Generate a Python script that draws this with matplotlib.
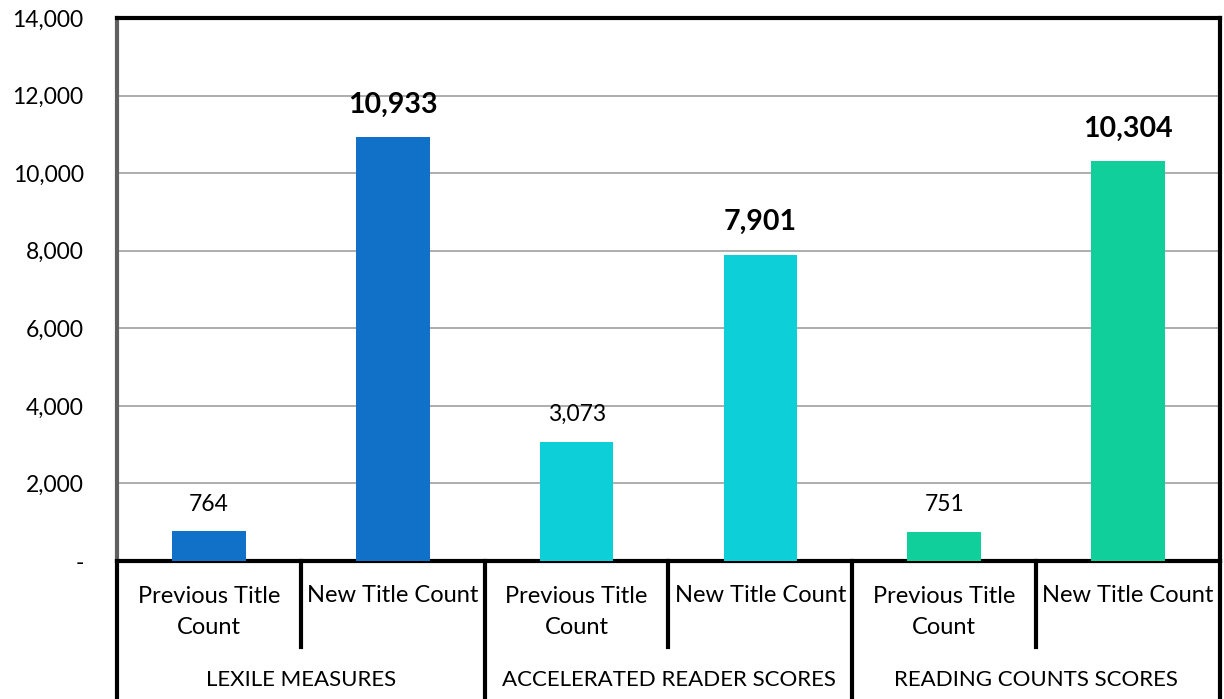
import matplotlib.pyplot as plt
from matplotlib.lines import Line2D
from matplotlib.ticker import FuncFormatter

plt.rcParams['font.family'] = ['Lato', 'DejaVu Sans']

groups = ["LEXILE MEASURES", "ACCELERATED READER SCORES", "READING COUNTS SCORES"]
subs = ["Previous Title\nCount", "New Title Count"]
values = [764, 10933, 3073, 7901, 751, 10304]
colors = ["#1170C8", "#1170C8", "#0CCFD8", "#0CCFD8", "#10CF9B", "#10CF9B"]

fig = plt.figure(figsize=(12.24, 6.99), dpi=100)
ax = fig.add_axes([117/1224, 1 - 561/699, 1103/1224, 543/699])

x = list(range(len(values)))
ax.bar(x, values, width=0.4, color=colors, zorder=3)
ax.set_xlim(-0.5, len(values) - 0.5)
ax.set_ylim(0, 14000)
ax.set_yticks(range(0, 14001, 2000))
ax.yaxis.set_major_formatter(FuncFormatter(lambda v, p: "-" if v == 0 else f"{int(v):,}"))
ax.tick_params(axis='y', length=0, labelsize=16.5, pad=24)
ax.set_xticks([])
ax.grid(axis='y', color='#A0A0A0', lw=1.2, zorder=0)

for s in ['top', 'right', 'bottom']:
    ax.spines[s].set_linewidth(3)
    ax.spines[s].set_color('black')
ax.spines['left'].set_linewidth(3)
ax.spines['left'].set_color('#606060')

for i, v in enumerate(values):
    if i % 2 == 1:
        ax.annotate(f"{v:,}", (i, v), xytext=(0, 14), textcoords='offset points',
                    ha='center', va='bottom', fontsize=20.5, fontweight='bold')
    else:
        ax.annotate(f"{v:,}", (i, v), xytext=(0, 12), textcoords='offset points',
                    ha='center', va='bottom', fontsize=16.5)

tr = ax.get_xaxis_transform()
# multi-level category axis
for i in range(len(values)):
    ax.text(i, -0.064 if i % 2 == 1 else -0.094, subs[i % 2], transform=tr,
            ha='center', va='center', fontsize=17, linespacing=1.55)
    if i % 2 == 1:
        ax.add_line(Line2D([i - 0.5, i - 0.5], [0, -0.158], transform=tr,
                           color='black', lw=3, clip_on=False))
for g, name in enumerate(groups):
    ax.text(2 * g + 0.5, -0.219, name, transform=tr, ha='center', va='center', fontsize=16)
for b in range(len(groups) + 1):
    ax.add_line(Line2D([2 * b - 0.5, 2 * b - 0.5], [0, -0.3], transform=tr,
                       color='black', lw=3, clip_on=False))

fig.savefig("out.png", dpi=100)
